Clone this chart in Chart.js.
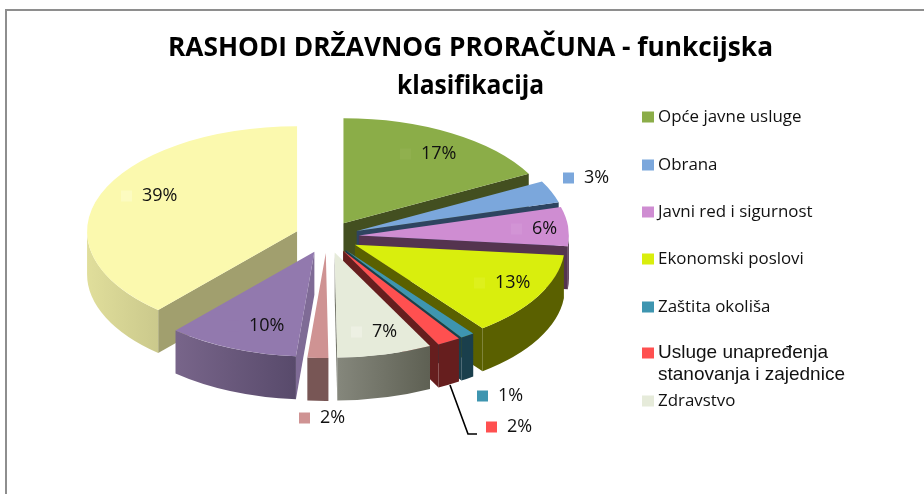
<!DOCTYPE html>
<html><head><meta charset="utf-8">
<style>html,body{margin:0;padding:0;background:#fff}#w{position:relative;width:924px;height:494px}</style>
<script src="https://cdn.jsdelivr.net/npm/chart.js@4"></script>
</head><body><div id="w"><canvas id="c" width="924" height="494"></canvas></div>
<script>
const titleLines = ['RASHODI DRŽAVNOG PRORAČUNA - funkcijska', 'klasifikacija'];
const categories = ['Opće javne usluge','Obrana','Javni red i sigurnost','Ekonomski poslovi','Zaštita okoliša','Usluge unapređenja stanovanja i zajednice','Zdravstvo','Rekreacija, kultura i religija','Obrazovanje','Socijalna zaštita'];
const values = [17.2,3.4,6.0,13.0,1.1,1.8,7.3,1.6,10.1,38.5];

const topColors  = ['#8BAD48','#7BA7DC','#CF8DD2','#D9EE0D','#3E95B0','#FF5050','#E6EBDA','#CF9393','#9279AE','#FBF9AE'];
const faceColors = ['#434F20','#2E4460','#54344F','#5A6000','#1A3F4C','#661E1E','#75776C','#785655','#7F6B96','#A19F6E'];
const wallLeft   = ['#434F20','#2E4460','#54344F','#5A6000','#1A3F4C','#661E1E','#85877C','#785655','#78658A','#E0DE9B'];
const wallRight  = ['#434F20','#2E4460','#54344F','#5A6000','#1A3F4C','#661E1E','#5E6053','#785655','#584A6B','#CBC98C'];
const swatchColors = ['#90B04E','#7BA7DC','#D294D5','#DDF01C','#3E95B0','#FF5050','#EDF0E3','#CF9393','#9279AE','#FCFBC0'];
const paintOrder = [9,0,1,2,3,4,5,8,6,7];

const pieCenterX = 327, pieCenterY = 237, pieRadius = 210, tilt = 0.5, depth = 43, explode = 32;
const labelFont = '18px "Open Sans"';
const labelTextX = [421,584,532,495,498,507,372,320,249,142];
const labelTextY = [154,178,229,283,396,427,332,418,326,196];
const swatchGap = 21, swatchSize = 11;
const legendCount = 7;
const legendY = [117,165,212,259,307,353,401];

const pie3d = {
  id:'pie3d',
  beforeDraw(chart){
    const c = chart.ctx;
    c.save();
    c.fillStyle='#fff'; c.fillRect(0,0,924,494);
    c.strokeStyle='#8E8E8E'; c.lineWidth=2;
    c.beginPath(); c.moveTo(6,494); c.lineTo(6,10); c.lineTo(924,10); c.stroke();
    c.restore();
  },
  beforeDatasetDraw(chart,args){
    const c = chart.ctx, arcs = chart.getDatasetMeta(args.index).data;
    paintOrder.forEach(i=>{
      const a = arcs[i], mid=(a.startAngle+a.endAngle)/2;
      const R=a.outerRadius, Ry=R*tilt;
      const x=a.x+explode*Math.cos(mid), y=a.y+explode*Math.sin(mid)*tilt;
      const pt=t=>[x+R*Math.cos(t), y+Ry*Math.sin(t)];
      const face=t=>{const p=pt(t);c.fillStyle=faceColors[i];c.beginPath();c.moveTo(x,y);c.lineTo(p[0],p[1]);c.lineTo(p[0],p[1]+depth);c.lineTo(x,y+depth);c.closePath();c.fill();};
      if(a.startAngle>Math.PI/2) face(a.startAngle);
      if(a.endAngle<Math.PI/2) face(a.endAngle);
      const a1=Math.max(a.startAngle,0), a2=Math.min(a.endAngle,Math.PI);
      if(a2>a1){
        const xs=[pt(a1)[0],pt(a2)[0]];
        const g=c.createLinearGradient(Math.min(...xs),0,Math.max(...xs),0);
        g.addColorStop(0,wallLeft[i]); g.addColorStop(1,wallRight[i]);
        c.fillStyle=g; c.beginPath();
        c.ellipse(x,y,R,Ry,0,a1,a2,false);
        c.ellipse(x,y+depth,R,Ry,0,a2,a1,true);
        c.closePath(); c.fill();
      }
      c.save();
      c.translate(x,y); c.scale(1,tilt); c.translate(-a.x,-a.y);
      a.draw(c);
      c.restore();
    });
    return false;
  },
  afterDraw(chart){
    const c = chart.ctx;
    c.save();
    c.strokeStyle='#000'; c.lineWidth=1.6;
    c.beginPath(); c.moveTo(450,385); c.lineTo(468,434); c.lineTo(477,434); c.stroke();

    c.fillStyle='#000'; c.textAlign='center'; c.textBaseline='alphabetic';
    c.font='bold 27px "Open Sans"';
    c.fillText(titleLines[0],470.5,56,605);
    c.fillText(titleLines[1],470.5,94,147);

    c.textAlign='left'; c.textBaseline='middle';
    values.forEach((v,i)=>{
      const tx=labelTextX[i], ty=labelTextY[i];
      c.fillStyle=swatchColors[i];
      c.fillRect(tx-swatchGap,ty-swatchSize/2,swatchSize,swatchSize);
      c.fillStyle='#111'; c.font=labelFont;
      c.fillText(Math.round(v)+'%',tx,ty);
    });

    categories.slice(0,legendCount).forEach((name,i)=>{
      const y=legendY[i];
      c.fillStyle=topColors[i]; c.fillRect(642,y-5.5,12,11);
      c.fillStyle='#111';
      if(i===5){
        c.font='19px "Liberation Sans"';
        c.fillText('Usluge unapređenja',658,y);
        c.fillText('stanovanja i zajednice',658,y+22);
      } else {
        c.font='16.9px "Open Sans"';
        c.fillText(name,658,y);
      }
    });
    c.restore();
  }
};

new Chart(document.getElementById('c'),{
  type:'pie',
  data:{labels:categories,datasets:[{data:values,backgroundColor:topColors,borderWidth:0}]},
  options:{
    responsive:false,animation:false,events:[],radius:pieRadius,
    layout:{padding:{left:0,top:0,right:924-2*pieCenterX,bottom:494-2*pieCenterY}},
    plugins:{legend:{display:false},tooltip:{enabled:false},title:{display:false}}
  },
  plugins:[pie3d]
});
</script></body></html>
